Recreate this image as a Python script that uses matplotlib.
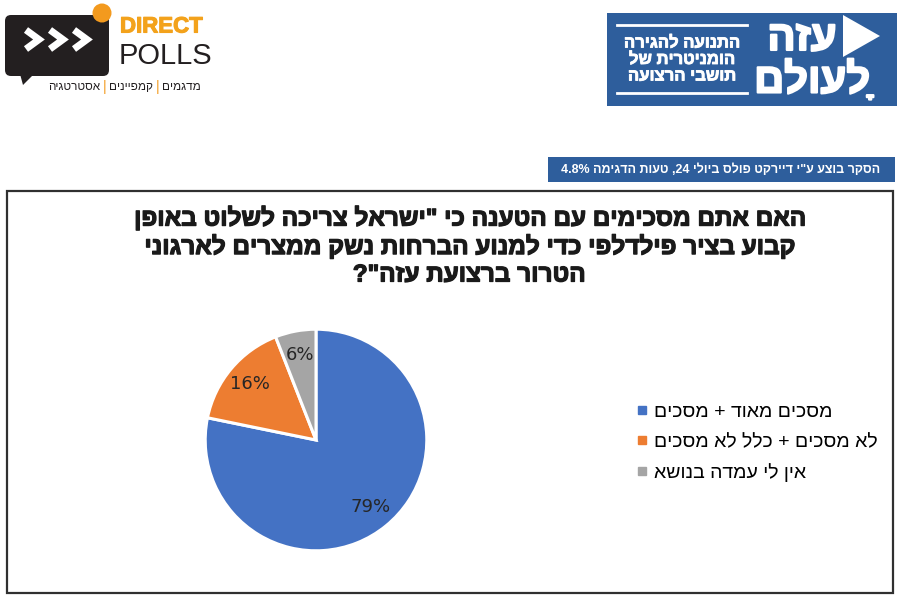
import re
import unicodedata
import matplotlib
matplotlib.use("Agg")
import matplotlib.pyplot as plt
import matplotlib.patheffects as pe
from matplotlib.patches import Rectangle, FancyBboxPatch, Polygon, Circle
from matplotlib.lines import Line2D

# ---------------- data ----------------
categories = ["מסכים מאוד + מסכים", "לא מסכים + כלל לא מסכים", "אין לי עמדה בנושא"]
values = [79, 16, 6]
colors = ["#4472C4", "#ED7D31", "#A5A5A5"]
title_lines = [
    'האם אתם מסכימים עם הטענה כי "ישראל צריכה לשלוט באופן',
    'קבוע בציר פילדלפי כדי למנוע הברחות נשק ממצרים לארגוני',
    'הטרור ברצועת עזה"?',
]
banner_text = 'הסקר בוצע ע"י דיירקט פולס ביולי 24, טעות הדגימה 4.8%'
right_logo_big = ["עזה", "לָעולם"]
right_logo_small = ["התנועה להגירה", "הומניטרית של", "תושבי הרצועה"]
left_logo_sub = ["מדגמים", "קמפיינים", "אסטרטגיה"]

HEB = ["Liberation Sans", "DejaVu Sans"]
plt.rcParams["font.family"] = HEB


def vis(s):
    """Convert logical RTL string to visual order for LTR renderer."""
    clusters = []
    for ch in s:
        if unicodedata.combining(ch) and clusters:
            clusters[-1] += ch
        else:
            clusters.append(ch)
    clusters.reverse()
    out, run = [], []
    for c in clusters:
        if re.match(r"[0-9A-Za-z.%]", c):
            run.append(c)
        else:
            if run:
                out.extend(reversed(run))
                run = []
            out.append(c)
    if run:
        out.extend(reversed(run))
    return "".join(out)


def thick(color, w):
    return [pe.withStroke(linewidth=w, foreground=color)]


W, H = 900, 600
fig = plt.figure(figsize=(9, 6), dpi=100)
fig.patch.set_facecolor("white")

bg = fig.add_axes([0, 0, 1, 1])
bg.set_xlim(0, W)
bg.set_ylim(H, 0)
bg.axis("off")

# ---------------- left logo ----------------
dark = "#231f20"
orange = "#F39A1E"
bubble = FancyBboxPatch((5, 15), 104, 61, boxstyle="round,pad=0,rounding_size=6",
                        facecolor=dark, edgecolor="none")
bg.add_patch(bubble)
bg.add_patch(Polygon([(20, 74), (34, 74), (23, 85)], closed=True,
                     facecolor=dark, edgecolor="none"))
for cx in (26, 50, 74):
    bg.plot([cx, cx + 13, cx], [30, 39.5, 49], color="white", lw=5,
            solid_joinstyle="miter", solid_capstyle="butt")
bg.add_patch(Circle((102, 13), 9.5, facecolor=orange, edgecolor="none"))
bg.text(120, 27, "DIRECT", color="#F3A21B", fontsize=16, fontweight="bold",
        family=["Liberation Sans"], ha="left", va="center",
        path_effects=thick("#F3A21B", 0.8))
bg.text(119, 56, "POLLS", color=dark, fontsize=21,
        family=["Liberation Sans"], ha="left", va="center")

# subtitle: words right-to-left with orange separators
prev = bg.text(201, 87, vis(left_logo_sub[0]), color=dark, fontsize=8.5,
               ha="right", va="center")
for w in left_logo_sub[1:]:
    sep = bg.annotate("|", xy=(0, 0.5), xycoords=prev, xytext=(-2, 0),
                      textcoords="offset points", ha="right", va="center",
                      color=orange, fontsize=10)
    prev = bg.annotate(vis(w), xy=(0, 0.5), xycoords=sep, xytext=(-2, 0),
                       textcoords="offset points", ha="right", va="center",
                       color=dark, fontsize=8.5)

# ---------------- right logo ----------------
blue = "#2E5E9C"
bg.add_patch(Rectangle((607, 13), 290, 93, facecolor=blue, edgecolor="none"))
bg.add_patch(Polygon([(843, 15), (843, 57), (880, 36)], closed=True,
                     facecolor="white", edgecolor="none"))
bg.text(802, 39, vis(right_logo_big[0]), color="white", fontsize=30,
        fontweight="bold", ha="center", va="center", path_effects=thick("white", 1.5))
bg.text(812, 81, vis(right_logo_big[1]), color="white", fontsize=30,
        fontweight="bold", ha="center", va="center", path_effects=thick("white", 1.5))
bg.plot([617, 747], [25, 25], color="white", lw=2)
bg.plot([617, 747], [93, 93], color="white", lw=2)
for i, t in enumerate(right_logo_small):
    bg.text(682, 43 + i * 16.5, vis(t), color="white", fontsize=12,
            fontweight="bold", ha="center", va="center", path_effects=thick("white", 0.6))

# ---------------- banner ----------------
bg.add_patch(Rectangle((548, 157), 347, 25, facecolor=blue, edgecolor="none"))
bg.text(721, 169.5, vis(banner_text), color="white", fontsize=9,
        fontweight="bold", ha="center", va="center")

# ---------------- chart frame ----------------
bg.add_patch(Rectangle((7, 191), 886, 402, facecolor="white",
                       edgecolor="#303030", lw=1.6))

for i, t in enumerate(title_lines):
    bg.text(469, 218 + i * 28.5, vis(t), color="#1a1a1a", fontsize=17.5,
            fontweight="bold", ha="center", va="center",
            path_effects=thick("#1a1a1a", 0.9))

# ---------------- pie ----------------
cx, cy, r = 316, 440, 113
pax = fig.add_axes([(cx - r) / W, (H - cy - r) / H, 2 * r / W, 2 * r / H])
pct = [f"{v}%" for v in values]
wedges, texts = pax.pie(values, colors=colors, startangle=90, counterclock=False,
                        labels=pct, labeldistance=0.78,
                        wedgeprops=dict(edgecolor="white", linewidth=2.2),
                        textprops=dict(fontsize=13, color="#262626",
                                       family=["DejaVu Sans"]))
for t in texts:
    t.set_ha("center")
    t.set_va("center")
pax.set_xlim(-1.02, 1.02)
pax.set_ylim(-1.02, 1.02)
pax.set_aspect("equal")
pax.axis("off")

handles = [Line2D([0], [0], marker="s", linestyle="none", markersize=5.5,
                  markerfacecolor=c, markeredgecolor=c) for c in colors]
fig.legend(handles, [vis(c) for c in categories],
           loc="upper left", bbox_to_anchor=(620 / W, 1 - 388 / H),
           frameon=False, handlelength=0.7, handletextpad=0.25,
           labelspacing=0.62, borderpad=0.3, prop=dict(family=HEB, size=14))

fig.savefig("out.png", dpi=100, facecolor="white")
